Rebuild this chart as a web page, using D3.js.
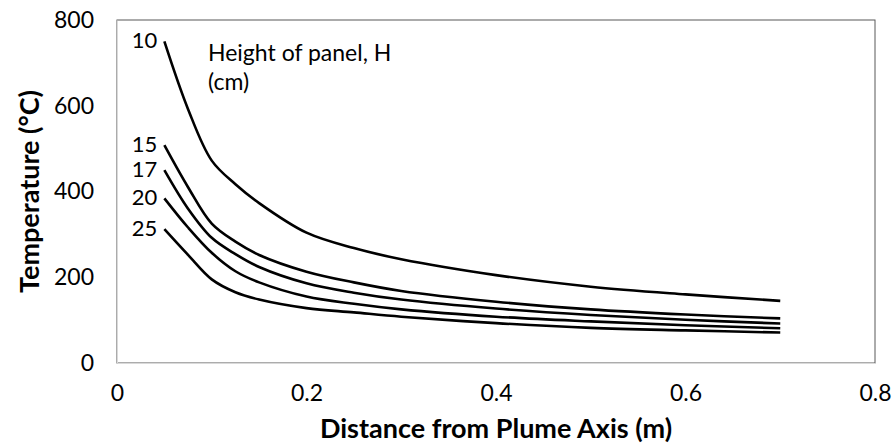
<!DOCTYPE html>
<html>
<head>
<meta charset="utf-8">
<script src="https://cdn.jsdelivr.net/npm/d3@7"></script>
<style>
  body { margin: 0; background: #fff; }
  text { font-family: Lato, 'Open Sans', sans-serif; fill: #000; }
</style>
</head>
<body>
<svg id="chart" width="893" height="445"></svg>
<script>
// distance from plume axis (m)
var distance = [0.05, 0.075, 0.1, 0.125, 0.15, 0.2, 0.25, 0.3, 0.4, 0.5, 0.6, 0.7];

// temperature (°C) per panel height H (cm)
var panelHeights = ['10', '15', '17', '20', '25'];
var tempH10 = [750, 592, 472, 417, 373, 304, 268, 242, 205, 178, 160, 145];
var tempH15 = [508, 410, 325, 283, 252, 213, 188, 168, 143, 125, 113, 104];
var tempH17 = [450, 360, 292, 254, 224, 186, 164, 148, 127, 112, 101, 92];
var tempH20 = [384, 316, 257, 214, 188, 155, 138, 125, 108, 97, 88, 81];
var tempH25 = [312, 252, 195, 165, 148, 128, 118, 108, 93, 82, 76, 71];

var xTicks = [0, 0.2, 0.4, 0.6, 0.8];
var yTicks = [0, 200, 400, 600, 800];

var series = [tempH10, tempH15, tempH17, tempH20, tempH25].map(function (vals, i) {
  return { name: panelHeights[i], points: distance.map(function (d, j) { return [d, vals[j]]; }) };
});

var svg = d3.select('#chart');
var plotLeft = 117, plotRight = 875, plotTop = 20, plotBottom = 363;

var x = d3.scaleLinear().domain([0, 0.8]).range([plotLeft, plotRight]);
var y = d3.scaleLinear().domain([0, 800]).range([plotBottom, plotTop]);

// plot area frame
svg.append('rect')
  .attr('x', plotLeft).attr('y', plotTop)
  .attr('width', plotRight - plotLeft).attr('height', plotBottom - plotTop)
  .attr('fill', 'none').attr('stroke', '#595959').attr('stroke-width', 1);

// axes without tick marks
var xAxis = svg.append('g')
  .attr('transform', 'translate(0,' + plotBottom + ')')
  .call(d3.axisBottom(x).tickValues(xTicks).tickSize(0).tickPadding(22)
    .tickFormat(function (d) { return d === 0 ? '0' : d3.format('.1f')(d); }));
xAxis.select('.domain').attr('stroke', '#d9d9d9');
xAxis.selectAll('text').style('font-size', '23px').style('font-family', 'Lato');

var yAxis = svg.append('g')
  .attr('transform', 'translate(' + plotLeft + ',0)')
  .call(d3.axisLeft(y).tickValues(yTicks).tickSize(0).tickPadding(23));
yAxis.select('.domain').attr('stroke', '#d9d9d9');
yAxis.selectAll('text').style('font-size', '23px').style('font-family', 'Lato');

var line = d3.line()
  .x(function (d) { return x(d[0]); })
  .y(function (d) { return y(d[1]); })
  .curve(d3.curveCatmullRom.alpha(0.5));

svg.append('g').selectAll('path')
  .data(series)
  .enter()
  .append('path')
  .attr('d', function (d) { return line(d.points); })
  .attr('fill', 'none')
  .attr('stroke', '#000')
  .attr('stroke-width', 2.6);

// series labels next to the first point
svg.append('g').selectAll('text')
  .data(series)
  .enter()
  .append('text')
  .attr('x', function (d) { return x(d.points[0][0]) - 7; })
  .attr('y', function (d) { return y(d.points[0][1]); })
  .attr('dy', '0.3em')
  .attr('text-anchor', 'end')
  .style('font-size', '22px')
  .text(function (d) { return d.name; });

svg.append('text')
  .attr('x', 208).attr('y', 61)
  .style('font-size', '23px')
  .text('Height of panel, H');
svg.append('text')
  .attr('x', 208).attr('y', 90)
  .style('font-size', '23px')
  .text('(cm)');

// axis titles
svg.append('text')
  .attr('x', (plotLeft + plotRight) / 2).attr('y', 438)
  .attr('text-anchor', 'middle')
  .style('font-size', '27px').style('font-weight', 'bold')
  .text('Distance from Plume Axis (m)');

svg.append('text')
  .attr('transform', 'translate(39,' + (plotTop + plotBottom) / 2 + ') rotate(-90)')
  .attr('text-anchor', 'middle')
  .style('font-size', '27px').style('font-weight', 'bold')
  .text('Temperature (°C)');
</script>
</body>
</html>
